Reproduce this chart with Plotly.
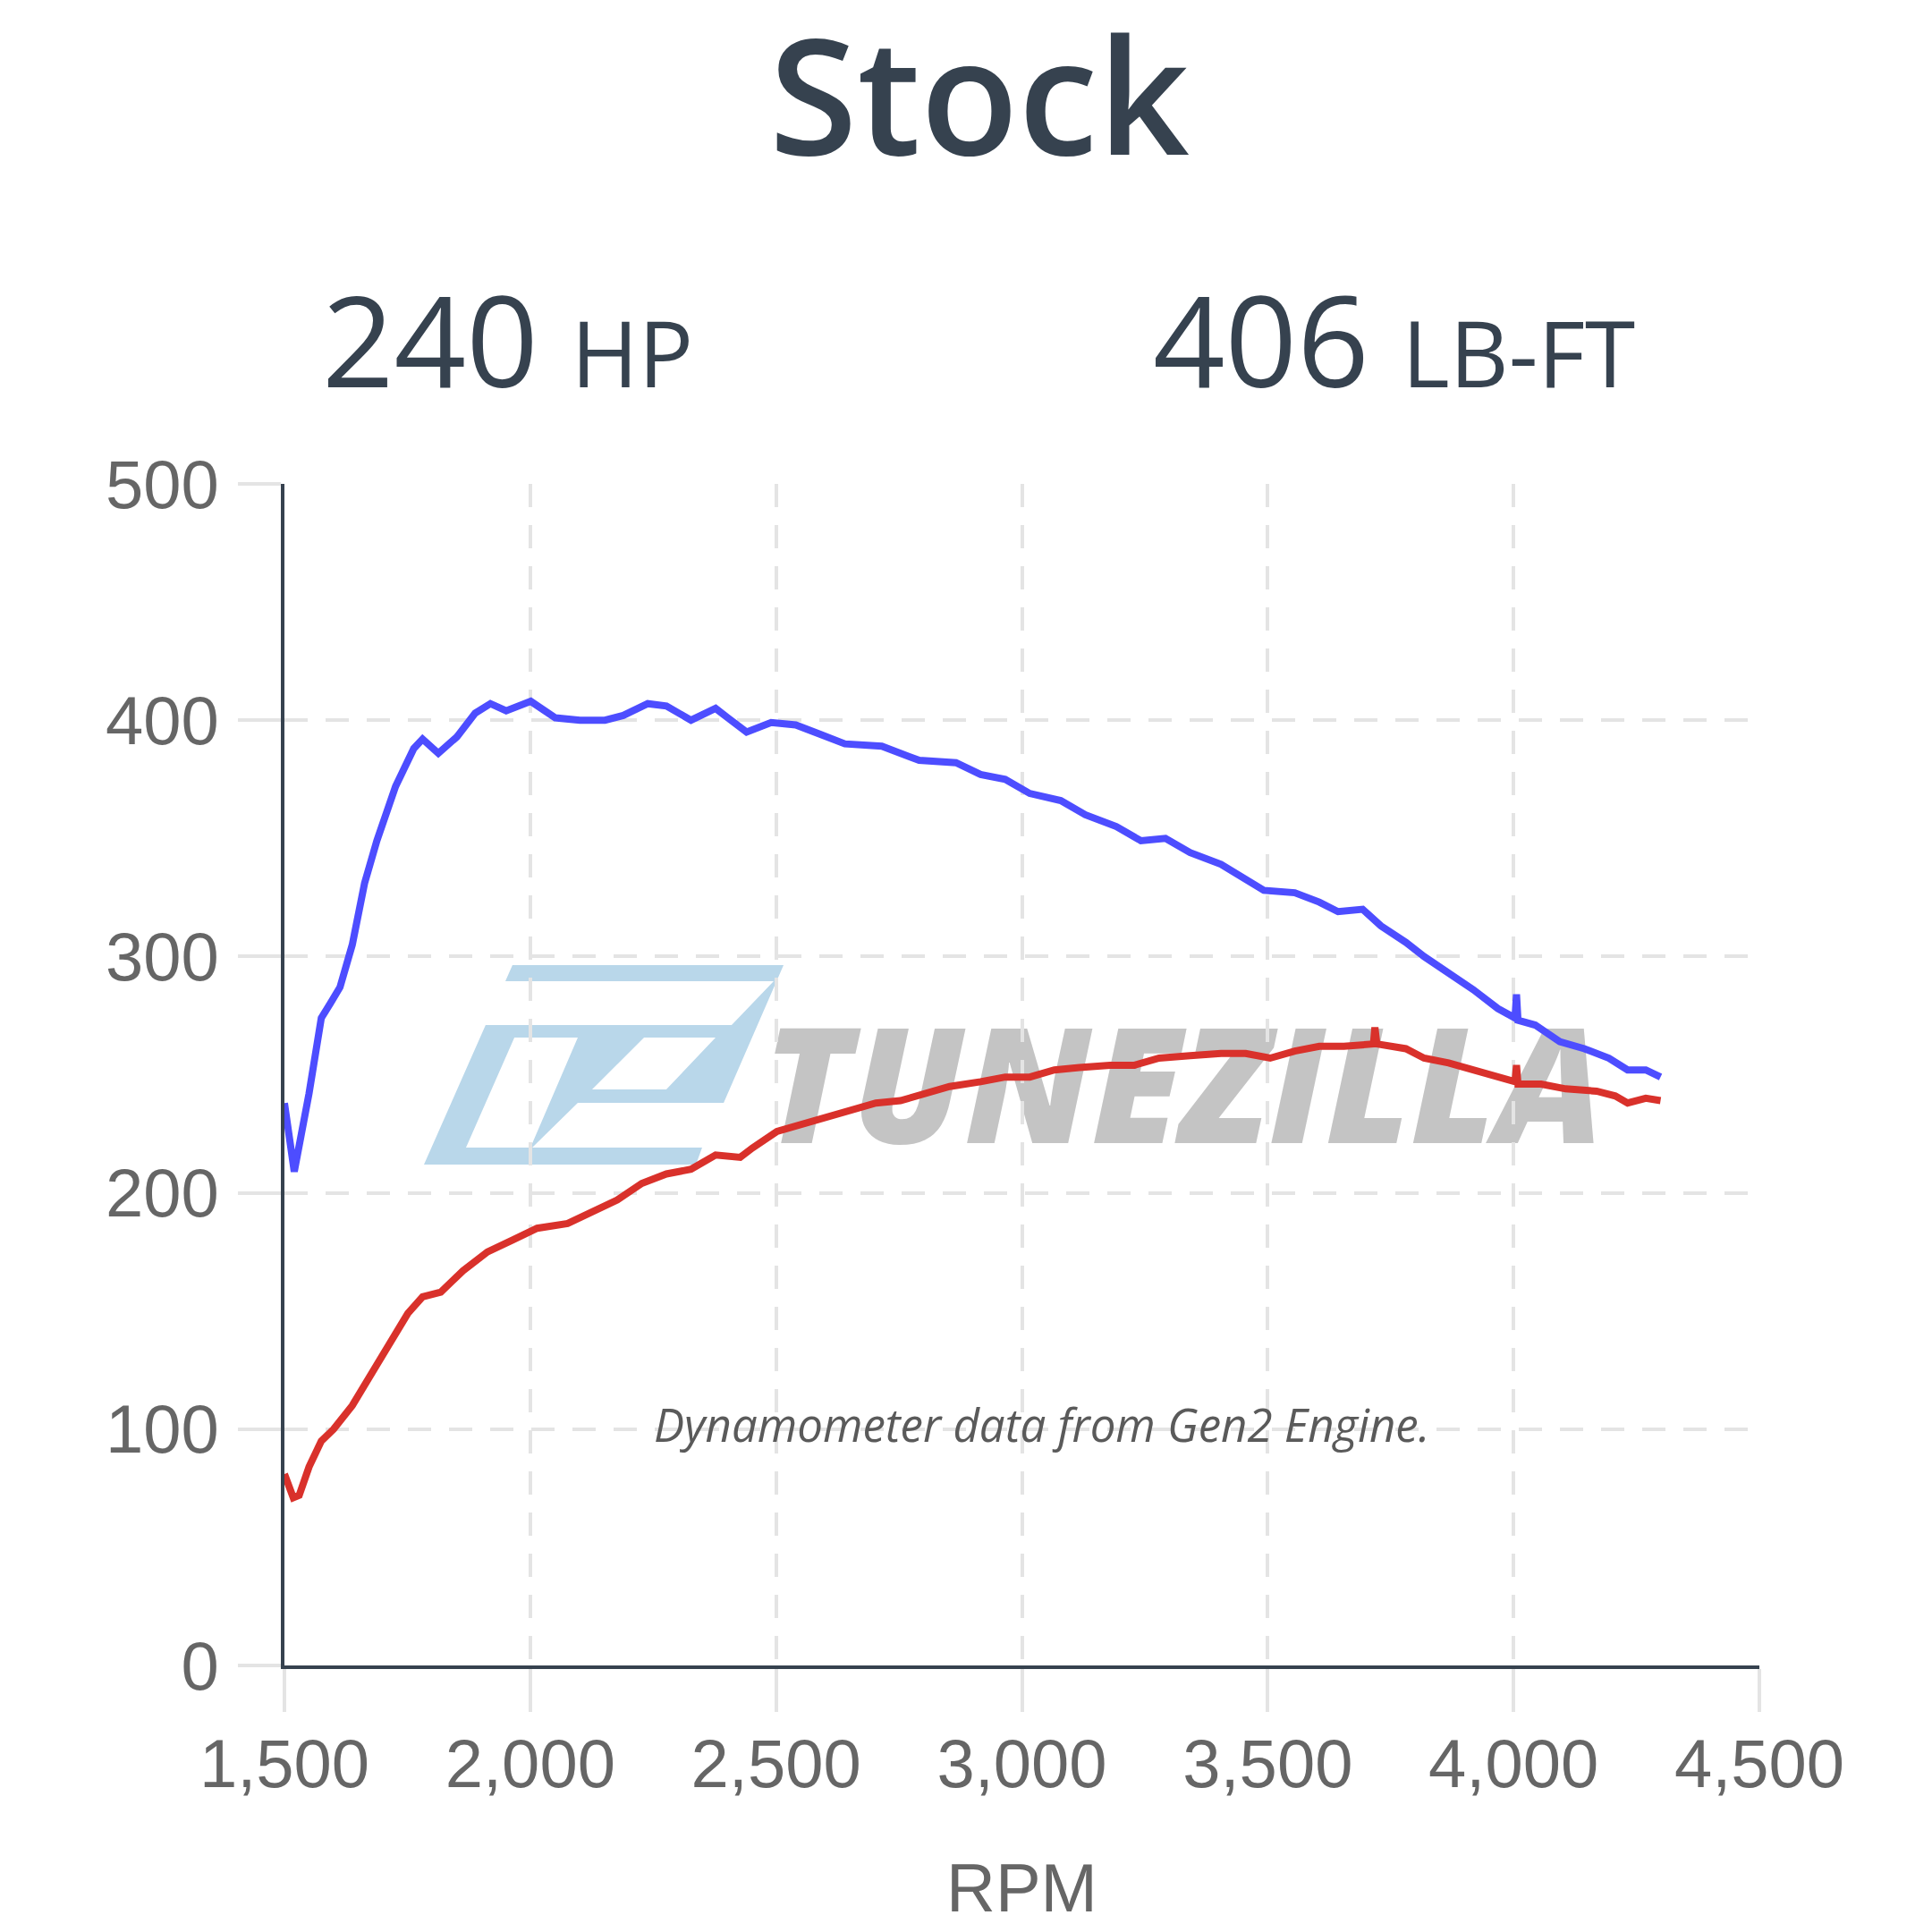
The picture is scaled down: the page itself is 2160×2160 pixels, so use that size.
import plotly.graph_objects as go

# --- data ---
torque_rpm = [1500, 1520, 1550, 1575, 1593, 1613, 1638, 1663, 1688, 1726, 1763, 1781,
              1813, 1851, 1888, 1919, 1951, 2001, 2051, 2101, 2152, 2189, 2239, 2277,
              2327, 2377, 2402, 2440, 2490, 2540, 2590, 2640, 2715, 2791, 2866, 2916,
              2966, 3016, 3079, 3129, 3192, 3242, 3292, 3342, 3405, 3455, 3492, 3555,
              3605, 3643, 3693, 3730, 3781, 3818, 3868, 3918, 3968, 4003, 4006, 4009,
              4044, 4094, 4144, 4194, 4232, 4269, 4299]
torque_lbft = [238, 209, 242, 274, 280, 287, 305, 331, 349, 372, 388, 392,
               386, 393, 403, 407, 404, 408, 401, 400, 400, 402, 407, 406,
               400, 405, 401, 395, 399, 398, 394, 390, 389, 383, 382, 377,
               375, 369, 366, 360, 355, 349, 350, 344, 339, 333, 328, 327,
               323, 319, 320, 313, 306, 300, 293, 286, 278, 274, 284, 273,
               271, 264, 261, 257, 252, 252, 249]

power_rpm = [1500, 1518, 1530, 1550, 1575, 1600, 1638, 1675, 1713, 1751, 1781, 1818,
             1863, 1913, 1964, 2014, 2076, 2127, 2177, 2227, 2277, 2327, 2377, 2427,
             2452, 2502, 2553, 2603, 2653, 2703, 2753, 2803, 2853, 2916, 2966, 3016,
             3066, 3117, 3179, 3229, 3279, 3342, 3405, 3455, 3505, 3555, 3605, 3655,
             3693, 3715, 3718, 3722, 3781, 3818, 3868, 3918, 3968, 4003, 4006, 4009,
             4056, 4106, 4169, 4207, 4232, 4269, 4299]
power_hp = [81, 71, 72, 84, 95, 100, 110, 123, 136, 149, 156, 158,
            167, 175, 180, 185, 187, 192, 197, 204, 208, 210, 216, 215,
            219, 226, 229, 232, 235, 238, 239, 242, 245, 247, 249, 249,
            252, 253, 254, 254, 257, 258, 259, 259, 257, 260, 262, 262,
            263, 263, 270, 263, 261, 257, 255, 252, 249, 247, 254, 246,
            246, 244, 243, 241, 238, 240, 239]

x_ticks = [1500, 2000, 2500, 3000, 3500, 4000, 4500]
y_ticks = [0, 100, 200, 300, 400, 500]

peak_hp = 240
peak_tq = 406

# --- page geometry (pixels) ---
W, H = 2160, 2160
L, R, T, B = 310, 1959, 533, 1854


def px(x):
    return (x - L) / (R - L)


def py(y):
    return (B - y) / (B - T)


def path(*polys):
    out = ''
    for poly in polys:
        pts = [f'{px(a):.4f},{py(b):.4f}' for a, b in poly]
        out += 'M' + ' L'.join(pts) + ' Z '
    return out


DARK = '#36424f'
GRID = '#e4e4e4'

fig = go.Figure()

fig.add_trace(go.Scatter(
    x=torque_rpm, y=torque_lbft,
    mode='lines', name='Torque',
    line=dict(color='#4d4dff', width=8),
))
fig.add_trace(go.Scatter(
    x=power_rpm, y=power_hp,
    mode='lines', name='HP',
    line=dict(color='#d9312b', width=8),
))

# watermark logo
logo_outer = [(565, 1071), (868, 1071), (801, 1225), (638, 1225), (587, 1275),
              (777, 1275), (770, 1294), (466, 1294), (535, 1138), (810, 1138),
              (857, 1089), (557, 1089)]
hole1 = [(567, 1152), (638, 1152), (585, 1275), (513, 1275)]
hole2 = [(712, 1152), (792, 1152), (737, 1210), (654, 1210)]
fig.add_shape(
    type='path', xref='paper', yref='paper',
    path=path(logo_outer, hole1, hole2),
    fillcolor='#b9d7ea', fillrule='evenodd',
    line=dict(width=0), layer='below',
)
fig.add_shape(
    type='rect', xref='paper', yref='paper',
    x0=px(857), x1=px(1773), y0=py(1285), y1=py(1140),
    line=dict(width=0), fillcolor='rgba(0,0,0,0)', layer='below',
    label=dict(
        text='<span style="font-stretch:88%">TUNEZILLA</span>',
        textposition='middle center',
        font=dict(family='Open Sans', size=180, color='#c4c4c4', weight=800, style='italic'),
    ),
)

# titles
fig.add_annotation(
    text='Stock', xref='paper', yref='paper',
    x=px(1087), y=py(95), showarrow=False,
    xanchor='center', yanchor='middle',
    font=dict(family='Open Sans', size=179, color=DARK, weight=600),
)
fig.add_annotation(
    text=f'{peak_hp} <span style="font-size:102px">HP</span>',
    xref='paper', yref='paper', x=px(350), y=py(370), showarrow=False,
    xanchor='left', yanchor='middle',
    font=dict(family='Open Sans', size=141, color=DARK),
)
fig.add_annotation(
    text=f'{peak_tq} <span style="font-size:102px">LB-FT</span>',
    xref='paper', yref='paper', x=px(1279), y=py(370), showarrow=False,
    xanchor='left', yanchor='middle',
    font=dict(family='Open Sans', size=141, color=DARK),
)
fig.add_annotation(
    text='Dynamometer data from Gen2 Engine.',
    xref='paper', yref='paper', x=px(1157), y=py(1584), showarrow=False,
    xanchor='center', yanchor='middle',
    font=dict(family='Open Sans', size=51, color='#5a5a5a', style='italic'),
)

axis_font = dict(family='Liberation Sans, Arial, sans-serif', size=76, color='#666666')

fig.update_layout(
    width=W, height=H,
    margin=dict(l=L, r=W - R, t=T, b=H - B),
    paper_bgcolor='white', plot_bgcolor='white',
    showlegend=False,
    xaxis=dict(
        range=[1500, 4500], tickvals=x_ticks, tickformat=',', separatethousands=True,
        showgrid=True, gridcolor=GRID, griddash='26px,20px', gridwidth=4,
        ticks='outside', ticklen=48, tickcolor=GRID, tickwidth=4,
        showline=True, linecolor=DARK, linewidth=4, zeroline=False,
        tickfont=axis_font, ticklabelstandoff=-7,
        title=dict(text='RPM', font=axis_font, standoff=72),
    ),
    yaxis=dict(
        range=[0, 500], tickvals=y_ticks,
        showgrid=True, gridcolor=GRID, griddash='26px,20px', gridwidth=4,
        ticks='outside', ticklen=48, tickcolor=GRID, tickwidth=4,
        showline=True, linecolor=DARK, linewidth=4, zeroline=False,
        tickfont=axis_font, ticklabelstandoff=6,
    ),
)

fig.write_html('out.html')
